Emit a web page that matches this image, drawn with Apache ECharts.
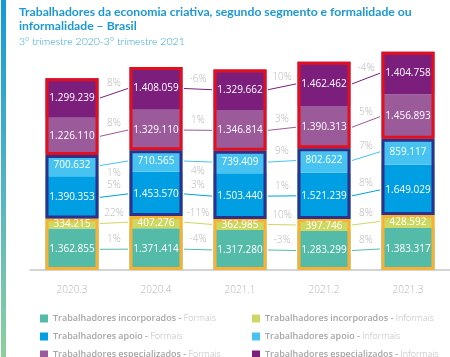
<!DOCTYPE html>
<html>
<head>
<meta charset="utf-8">
<script src="https://cdn.jsdelivr.net/npm/echarts@6/dist/echarts.min.js"></script>
<style>
html,body{margin:0;padding:0;background:#fff;}
#chart{width:450px;height:357px;}
</style>
</head>
<body>
<div id="chart"></div>
<script>
// ---- data ----
const categories = ['2020.3', '2020.4', '2021.1', '2021.2', '2021.3'];

const incorporadosFormais   = [1362855, 1371414, 1317280, 1283299, 1383317];
const incorporadosInformais = [334215, 407276, 362985, 397746, 428592];
const apoioFormais          = [1390353, 1453570, 1503440, 1521239, 1649029];
const apoioInformais        = [700632, 710565, 739409, 802622, 859117];
const especializadosFormais = [1226110, 1329110, 1346814, 1390313, 1456893];
const especializadosInformais = [1299239, 1408059, 1329662, 1462462, 1404758];

// period-on-period change labels (between consecutive quarters)
const pctIncorporadosFormais   = ['1%', '-4%', '-3%', '8%'];
const pctIncorporadosInformais = ['22%', '-11%', '10%', '8%'];
const pctApoioFormais          = ['5%', '3%', '1%', '8%'];
const pctApoioInformais        = ['1%', '4%', '9%', '7%'];
const pctEspecializadosFormais = ['8%', '1%', '3%', '5%'];
const pctEspecializadosInformais = ['8%', '-6%', '10%', '-4%'];

const seriesNames = [
  'Trabalhadores incorporados - Formais',
  'Trabalhadores incorporados - Informais',
  'Trabalhadores apoio - Formais',
  'Trabalhadores apoio - Informais',
  'Trabalhadores especializados - Formais',
  'Trabalhadores especializados - Informais'
];

// ---- styles ----
const colors = ['#55bba9', '#cdd863', '#009fe3', '#46c3f1', '#9b5a99', '#7c1f7c'];
const groupBorders = ['#f8b133', '#2e3089', '#e2101f'];
const BAR_W = 53;
const BORDER_W = 3;

const segValues = [incorporadosFormais, incorporadosInformais, apoioFormais,
  apoioInformais, especializadosFormais, especializadosInformais];
const segPct = [pctIncorporadosFormais, pctIncorporadosInformais, pctApoioFormais,
  pctApoioInformais, pctEspecializadosFormais, pctEspecializadosInformais];

// label placement: below the connector for these (segment, gap) pairs
const labelBelow = {'3-0': true, '3-1': true};

const fmt = v => String(v).replace(/\B(?=(\d{3})+(?!\d))/g, '.');

// stacked midpoints for connectors
const mids = segValues.map(() => []);
categories.forEach((c, i) => {
  let base = 0;
  segValues.forEach((arr, s) => {
    mids[s][i] = base + arr[i] / 2;
    base += arr[i];
  });
});

const connectorData = [];
segValues.forEach((arr, s) => {
  for (let i = 0; i < categories.length - 1; i++) {
    connectorData.push([i, mids[s][i], i + 1, mids[s][i + 1], s, i]);
  }
});

const groupSums = [
  incorporadosFormais.map((v, i) => v + incorporadosInformais[i]),
  apoioFormais.map((v, i) => v + apoioInformais[i]),
  especializadosFormais.map((v, i) => v + especializadosInformais[i])
];

const series = [];
// coloured fills
segValues.forEach((arr, s) => {
  series.push({
    name: seriesNames[s],
    type: 'bar',
    stack: 'fill',
    barWidth: BAR_W,
    barGap: '-100%',
    data: arr,
    itemStyle: {color: colors[s]},
    label: {show: false},
    z: 2
  });
});
// group frames
groupSums.forEach((arr, g) => {
  series.push({
    name: 'grupo' + g,
    type: 'bar',
    stack: 'frame',
    barWidth: BAR_W,
    barGap: '-100%',
    data: arr,
    silent: true,
    itemStyle: {color: 'rgba(0,0,0,0)', borderColor: groupBorders[g], borderWidth: BORDER_W},
    label: {show: false},
    z: 4
  });
});
// value labels (on top of frames)
segValues.forEach((arr, s) => {
  series.push({
    name: 'rotulo' + s,
    type: 'bar',
    stack: 'labels',
    barWidth: BAR_W,
    barGap: '-100%',
    data: arr,
    silent: true,
    itemStyle: {color: 'rgba(0,0,0,0)'},
    label: {
      show: true,
      position: 'inside',
      color: '#ffffff',
      fontSize: 10,
      fontFamily: 'Open Sans',
      fontWeight: 500,
      offset: s === 1 ? [0, 1] : [0, 0],
      formatter: p => fmt(p.value)
    },
    z: 6
  });
});
series.push({
  type: 'custom',
  silent: true,
  data: connectorData,
  encode: {x: [0, 2], y: [1, 3]},
  z: 1,
  renderItem: function (params, api) {
    const s = api.value(4), gi = api.value(5);
    const p1 = api.coord([api.value(0), api.value(1)]);
    const p2 = api.coord([api.value(2), api.value(3)]);
    const hw = (BAR_W + BORDER_W) / 2;
    const x1 = p1[0] + hw, y1 = p1[1];
    const x2 = p2[0] - hw, y2 = p2[1];
    const below = labelBelow[s + '-' + gi];
    return {
      type: 'group',
      children: [
        {type: 'line', shape: {x1: x1, y1: y1, x2: x2, y2: y2},
         style: {stroke: colors[s], lineWidth: 1}},
        {type: 'text', x: (x1 + x2) / 2, y: (y1 + y2) / 2 + (below ? 10 : -10),
         style: {text: segPct[s][gi], fill: '#b8b8b8', fontSize: 10,
                 fontFamily: 'Open Sans', fontWeight: 300,
                 align: 'center', verticalAlign: 'middle'}}
      ]
    };
  }
});

const legendText = {
  fontSize: 9,
  fontFamily: 'Open Sans',
  rich: {
    a: {fontSize: 9, fontFamily: 'Open Sans', fontWeight: 600, color: '#a6a6a6', lineHeight: 12},
    b: {fontSize: 9, fontFamily: 'Open Sans', fontWeight: 300, color: '#bcbcbc', lineHeight: 12}
  }
};
const legendFormatter = name => {
  const parts = name.split(' - ');
  return '{a|' + parts[0] + ' -} {b|' + parts[1] + '}';
};
const legendPos = [[35, 309], [247, 309], [35, 327], [247, 327], [35, 345], [247, 345]];
const legends = seriesNames.map((n, k) => ({
  orient: 'horizontal',
  left: legendPos[k][0], top: legendPos[k][1],
  itemWidth: 8, itemHeight: 8, itemGap: 4,
  icon: 'rect',
  data: [n],
  formatter: legendFormatter,
  textStyle: legendText
}));

const chart = echarts.init(document.getElementById('chart'), null, {renderer: 'canvas'});
chart.setOption({
  animation: false,
  backgroundColor: '#ffffff',
  title: {
    text: 'Trabalhadores da economia criativa, segundo segmento e formalidade ou\ninformalidade – Brasil',
    subtext: '3º trimestre 2020-3º trimestre 2021',
    left: 14,
    top: 0,
    itemGap: 3,
    textStyle: {fontSize: 12.2, fontWeight: 'bold', color: '#1b98d5', fontFamily: 'Lato', lineHeight: 14},
    subtextStyle: {fontSize: 10.5, fontWeight: 300, color: '#2ba2dc', fontFamily: 'Lato'}
  },
  graphic: [{
    type: 'rect',
    left: 1, top: 0,
    shape: {width: 5, height: 357},
    style: {fill: new echarts.graphic.LinearGradient(0, 0, 0, 1, [
      {offset: 0, color: '#129ad9'},
      {offset: 0.5, color: '#4fb4c6'},
      {offset: 1, color: '#8fcf9d'}
    ])},
    silent: true
  }],
  legend: legends,
  grid: {left: 30, top: 27, width: 437, height: 243, containLabel: false},
  xAxis: {
    type: 'category',
    data: categories,
    axisLine: {lineStyle: {color: '#c8c8c8', width: 1.5}},
    axisTick: {show: false},
    axisLabel: {color: '#b3b3b3', fontSize: 10, margin: 15, fontFamily: 'Open Sans', fontWeight: 300}
  },
  yAxis: {
    type: 'value',
    min: 0, max: 8000000,
    show: false,
    splitLine: {show: false}
  },
  series: series
});
</script>
</body>
</html>
